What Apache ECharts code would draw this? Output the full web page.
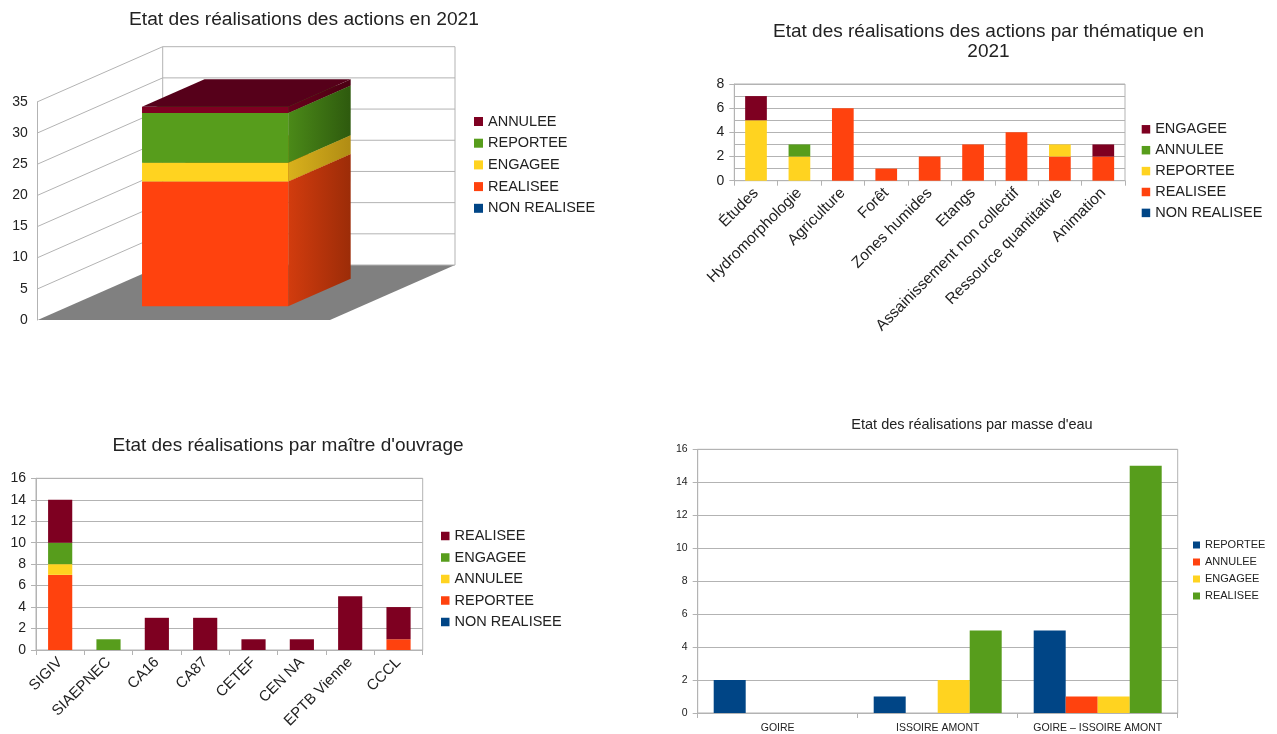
<!DOCTYPE html>
<html>
<head>
<meta charset="UTF-8">
<title>Etat des réalisations 2021</title>
<script src="https://cdn.jsdelivr.net/npm/echarts@6/dist/echarts.min.js"></script>
<style>
html, body { margin: 0; padding: 0; background: #fff; }
.chart { position: absolute; }
</style>
</head>
<body>
<div id="c1" class="chart" style="left:0;top:0;width:640px;height:367px;"></div>
<div id="c2" class="chart" style="left:640px;top:0;width:637px;height:367px;"></div>
<div id="c3" class="chart" style="left:0;top:367px;width:640px;height:367px;"></div>
<div id="c4" class="chart" style="left:640px;top:367px;width:637px;height:367px;"></div>
<script type="text/javascript">
// ---- données ----
// graphique 1 : état global 2021 (barre 3D empilée)
var statuts1 = ['NON REALISEE', 'REALISEE', 'ENGAGEE', 'REPORTEE', 'ANNULEE'];
var total2021 = [0, 20, 3, 8, 1];
var ticks1 = [0, 5, 10, 15, 20, 25, 30, 35];

// graphique 2 : par thématique
var themes = ['Études', 'Hydromorphologie', 'Agriculture', 'Forêt', 'Zones humides', 'Etangs',
    'Assainissement non collectif', 'Ressource quantitative', 'Animation'];
var statuts2 = ['NON REALISEE', 'REALISEE', 'REPORTEE', 'ANNULEE', 'ENGAGEE'];
var theme_nonRealisee = [0, 0, 0, 0, 0, 0, 0, 0, 0];
var theme_realisee = [0, 0, 6, 1, 2, 3, 4, 2, 2];
var theme_reportee = [5, 2, 0, 0, 0, 0, 0, 1, 0];
var theme_annulee = [0, 1, 0, 0, 0, 0, 0, 0, 0];
var theme_engagee = [2, 0, 0, 0, 0, 0, 0, 0, 1];

// graphique 3 : par maître d'ouvrage
var maitres = ['SIGIV', 'SIAEPNEC', 'CA16', 'CA87', 'CETEF', 'CEN NA', 'EPTB Vienne', 'CCCL'];
var statuts3 = ['NON REALISEE', 'REPORTEE', 'ANNULEE', 'ENGAGEE', 'REALISEE'];
var mo_nonRealisee = [0, 0, 0, 0, 0, 0, 0, 0];
var mo_reportee = [7, 0, 0, 0, 0, 0, 0, 1];
var mo_annulee = [1, 0, 0, 0, 0, 0, 0, 0];
var mo_engagee = [2, 1, 0, 0, 0, 0, 0, 0];
var mo_realisee = [4, 0, 3, 3, 1, 1, 5, 3];

// graphique 4 : par masse d'eau
var masses = ['GOIRE', 'ISSOIRE AMONT', 'GOIRE – ISSOIRE AMONT'];
var statuts4 = ['REPORTEE', 'ANNULEE', 'ENGAGEE', 'REALISEE'];
var masse_reportee = [2, 1, 5];
var masse_annulee = [0, 0, 1];
var masse_engagee = [0, 2, 1];
var masse_realisee = [0, 5, 15];

// ---- styles ----
var PAL = ['#004586', '#ff420e', '#ffd320', '#579d1c', '#7e0021'];
var SIDE = [['#003a70', '#002a52'], ['#d23c0e', '#9c2c08'], ['#d9b11c', '#b08c14'],
    ['#4b8a18', '#2e5a0e'], ['#68001b', '#4a0013']];
var TOPC = ['#00305c', '#c8340a', '#c9a516', '#3f7414', '#56001a'];
var DEPTH = [125, -55];   // décalage de profondeur de la vue 3D
var FONT = '"Liberation Sans", Arial, sans-serif';
var TXT = '#222';
var GRIDC = '#b3b3b3';

function lineEl(p, q) {
    return { type: 'line', shape: { x1: p[0], y1: p[1], x2: q[0], y2: q[1] },
        style: { stroke: GRIDC, lineWidth: 1 } };
}
function shift(p, k) {
    return [p[0] + DEPTH[0] * k, p[1] + DEPTH[1] * k];
}

// murs + sol de la vue 3D
function renderWalls(params, api) {
    var kids = [];
    var ymax = ticks1[ticks1.length - 1];
    var a = api.coord([0, 0]), b = api.coord([1, 0]);
    kids.push({ type: 'polygon', shape: { points: [a, b, shift(b, 1), shift(a, 1)] },
        style: { fill: '#808080' } });
    ticks1.forEach(function (v) {
        var p = api.coord([0, v]), q = api.coord([1, v]);
        if (v > 0) kids.push(lineEl(p, shift(p, 1)));
        kids.push(lineEl(shift(p, 1), shift(q, 1)));
    });
    kids.push(lineEl(shift(a, 1), shift(api.coord([0, ymax]), 1)));
    kids.push(lineEl(shift(b, 1), shift(api.coord([1, ymax]), 1)));
    return { type: 'group', children: kids };
}

// un segment de la barre 3D
function prism(i) {
    return function (params, api) {
        var base = api.value(0), top = api.value(1);
        if (top <= base) return null;
        var a = shift(api.coord([0.25, base]), 0.25);
        var b = shift(api.coord([0.75, top]), 0.25);
        var x0 = a[0], y0 = a[1], x1 = b[0], y1 = b[1];
        var hx = DEPTH[0] / 2, hy = DEPTH[1] / 2;
        return { type: 'group', children: [
            { type: 'rect', shape: { x: x0, y: y1, width: x1 - x0, height: y0 - y1 },
                style: { fill: PAL[i] } },
            { type: 'polygon', shape: { points: [[x1, y0], [x1 + hx, y0 + hy], [x1 + hx, y1 + hy], [x1, y1]] },
                style: { fill: new echarts.graphic.LinearGradient(0, 0, 1, 0,
                    [{ offset: 0, color: SIDE[i][0] }, { offset: 1, color: SIDE[i][1] }]) } },
            { type: 'polygon', shape: { points: [[x0, y1], [x1, y1], [x1 + hx, y1 + hy], [x0 + hx, y1 + hy]] },
                style: { fill: TOPC[i] } }
        ] };
    };
}

function titleOpt(text, cx, top, size) {
    return { text: text, left: cx, top: top, textAlign: 'center', padding: 0,
        textStyle: { fontSize: size, fontWeight: 'normal', color: TXT, lineHeight: 20, fontFamily: FONT } };
}
function legendOpt(names, left, top, size, box, gap, lh) {
    return { orient: 'vertical', left: left, top: top, padding: 0, icon: 'rect',
        itemWidth: box, itemHeight: box, itemGap: gap, data: names,
        textStyle: { fontSize: size, color: TXT, lineHeight: lh, fontFamily: FONT } };
}

// ---- graphique 1 ----
var chart1 = echarts.init(document.getElementById('c1'));
var series1 = [{ type: 'custom', renderItem: renderWalls, data: [[0, 0]], silent: true, z: 1 }];
var cumul = 0;
statuts1.forEach(function (s, i) {
    var base = cumul;
    cumul += total2021[i];
    series1.push({ type: 'custom', name: s, itemStyle: { color: PAL[i] }, renderItem: prism(i),
        data: [[base, cumul]], z: 2 });
});
chart1.setOption({
    animation: false,
    textStyle: { fontFamily: FONT },
    title: titleOpt('Etat des réalisations des actions en 2021', 304, 10, 19.2),
    legend: legendOpt(statuts1.slice().reverse(), 474, 113.5, 14.5, 9, 5.7, 16),
    grid: { left: 37.7, top: 101.7, width: 292.3, height: 218.3 },
    xAxis: { type: 'value', min: 0, max: 1, show: false },
    yAxis: { type: 'value', min: 0, max: 35, interval: 5,
        axisLine: { show: true, lineStyle: { color: GRIDC } }, axisTick: { show: false },
        splitLine: { show: false }, axisLabel: { fontSize: 14, color: TXT, margin: 10 } },
    series: series1
});

// axes communs des graphiques 2 à 4
function catAxis(cats, size, rotate, margin) {
    return { type: 'category', data: cats,
        axisLine: { lineStyle: { color: GRIDC } },
        axisTick: { show: true, length: 5, lineStyle: { color: GRIDC } },
        axisLabel: { interval: 0, rotate: rotate, fontSize: size, color: TXT, margin: margin } };
}
function valAxis(max, size, minor) {
    return { type: 'value', min: 0, max: max, interval: 2,
        axisLine: { show: true, lineStyle: { color: GRIDC } },
        axisTick: { show: true, length: 5, lineStyle: { color: GRIDC } },
        splitLine: { lineStyle: { color: GRIDC } },
        minorTick: { show: false, splitNumber: 2 },
        minorSplitLine: { show: minor, lineStyle: { color: GRIDC } },
        axisLabel: { fontSize: size, color: TXT, margin: 10 } };
}

// ---- graphique 2 ----
var chart2 = echarts.init(document.getElementById('c2'));
var cols2 = [theme_nonRealisee, theme_realisee, theme_reportee, theme_annulee, theme_engagee];
chart2.setOption({
    animation: false,
    textStyle: { fontFamily: FONT },
    title: titleOpt('Etat des réalisations des actions par thématique en\n2021', 348.5, 22, 19),
    legend: legendOpt(statuts2.slice().reverse(), 501.7, 121.3, 14.5, 8.5, 4.9, 16),
    grid: { left: 94.3, top: 84, width: 390.7, height: 96.7, show: true, borderColor: GRIDC, borderWidth: 1 },
    xAxis: catAxis(themes, 15.5, 45, 10),
    yAxis: valAxis(8, 14, true),
    series: statuts2.map(function (s, i) {
        return { type: 'bar', name: s, stack: 'total', data: cols2[i], barWidth: '50%',
            itemStyle: { color: PAL[i] } };
    })
});

// ---- graphique 3 ----
var chart3 = echarts.init(document.getElementById('c3'));
var cols3 = [mo_nonRealisee, mo_reportee, mo_annulee, mo_engagee, mo_realisee];
chart3.setOption({
    animation: false,
    textStyle: { fontFamily: FONT },
    title: titleOpt("Etat des réalisations par maître d'ouvrage", 288, 69, 19),
    legend: legendOpt(statuts3.slice().reverse(), 441, 161, 14.5, 8.5, 5.5, 16),
    grid: { left: 36, top: 111.3, width: 386.7, height: 171.7, show: true, borderColor: GRIDC, borderWidth: 1 },
    xAxis: catAxis(maitres, 15, 45, 10),
    yAxis: valAxis(16, 14, false),
    series: statuts3.map(function (s, i) {
        return { type: 'bar', name: s, stack: 'total', data: cols3[i], barWidth: '50%',
            itemStyle: { color: PAL[i] } };
    })
});

// ---- graphique 4 ----
var chart4 = echarts.init(document.getElementById('c4'));
var cols4 = [masse_reportee, masse_annulee, masse_engagee, masse_realisee];
chart4.setOption({
    animation: false,
    textStyle: { fontFamily: FONT },
    title: titleOpt("Etat des réalisations par masse d'eau", 332, 48, 14.5),
    legend: legendOpt(statuts4, 553, 172, 11, 7, 5, 12),
    grid: { left: 57.7, top: 82.3, width: 480, height: 265.7, show: true, borderColor: GRIDC, borderWidth: 1 },
    xAxis: catAxis(masses, 10.5, 0, 10),
    yAxis: valAxis(16, 10.5, false),
    series: statuts4.map(function (s, i) {
        return { type: 'bar', name: s, data: cols4[i], barGap: '0%', barCategoryGap: '20%',
            itemStyle: { color: PAL[i] } };
    })
});
</script>
</body>
</html>
